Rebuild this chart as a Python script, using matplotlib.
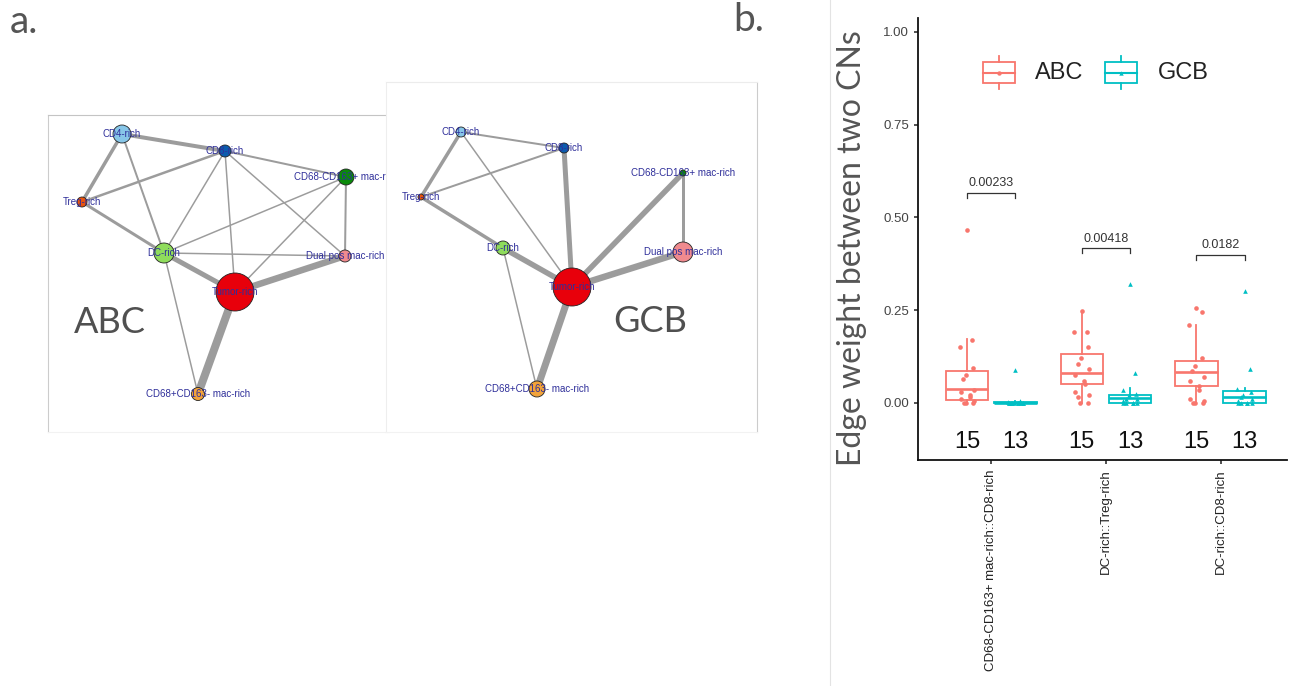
import numpy as np
import matplotlib
matplotlib.use('Agg')
import matplotlib.pyplot as plt
from matplotlib.patches import Circle, Rectangle

W, H = 1291, 686

# ---- network data (a.) ----
node_names = ['CD4-rich', 'CD8-rich', 'CD68-CD163+ mac-rich', 'Treg-rich',
              'DC-rich', 'Dual pos mac-rich', 'Tumor-rich', 'CD68+CD163- mac-rich']
node_colors = ['#87c6e8', '#0b5cad', '#0a8a0a', '#e8530e',
               '#8fdc5c', '#f08a8e', '#e8000b', '#f2a33a']

abc_x = [122, 225, 346, 82, 164, 345, 235, 198]
abc_y = [134, 151, 177, 202, 253, 256, 292, 394]
abc_r = [9, 6, 8, 5, 10, 6, 19, 6.5]
abc_edges = [(0, 1, 4), (0, 3, 3.5), (0, 4, 2), (1, 3, 2.5), (1, 2, 2), (1, 4, 1.5),
             (1, 6, 1.5), (1, 5, 1.5), (3, 4, 3), (2, 4, 1.5), (2, 6, 1.5), (2, 5, 2),
             (4, 5, 1.5), (4, 6, 5), (6, 5, 6.5), (6, 7, 8), (4, 7, 1.5)]

gcb_x = [461, 564, 683, 421, 503, 683, 572, 537]
gcb_y = [132, 148, 173, 197, 248, 252, 287, 389]
gcb_r = [5, 5, 3, 3, 7, 10, 19, 8]
gcb_edges = [(0, 1, 2), (0, 3, 3.5), (0, 6, 1.5), (3, 1, 2), (3, 4, 3.5), (1, 6, 5),
             (4, 6, 5.5), (4, 7, 1.5), (6, 2, 5.5), (2, 5, 3), (6, 5, 6.5), (6, 7, 7)]

# ---- boxplot data (b.) ----
cats = ['CD68-CD163+ mac-rich::CD8-rich', 'DC-rich::Treg-rich', 'DC-rich::CD8-rich']
abc_q1 = [0.009, 0.050, 0.045]
abc_med = [0.036, 0.081, 0.084]
abc_q3 = [0.086, 0.131, 0.113]
abc_lo = [0.0, 0.0, 0.0]
abc_hi = [0.173, 0.248, 0.209]
gcb_q1 = [0.0, 0.0, 0.0]
gcb_med = [0.0, 0.012, 0.016]
gcb_q3 = [0.003, 0.021, 0.032]
gcb_lo = [0.0, 0.0, 0.0]
gcb_hi = [0.005, 0.040, 0.039]

abc_pts = [[0.465, 0.17, 0.15, 0.095, 0.075, 0.065, 0.035, 0.03, 0.02, 0.015, 0.01, 0.005, 0.0, 0.0, 0.0],
           [0.248, 0.19, 0.19, 0.15, 0.12, 0.105, 0.09, 0.075, 0.06, 0.05, 0.03, 0.02, 0.015, 0.0, 0.0],
           [0.255, 0.245, 0.21, 0.12, 0.10, 0.085, 0.07, 0.06, 0.045, 0.035, 0.01, 0.005, 0.0, 0.0, 0.0]]
gcb_pts = [[0.088, 0.005, 0.002, 0.0, 0.0, 0.0, 0.0, 0.0, 0.0, 0.0, 0.0, 0.0, 0.0],
           [0.319, 0.081, 0.035, 0.025, 0.02, 0.01, 0.01, 0.005, 0.0, 0.0, 0.0, 0.0, 0.0],
           [0.301, 0.09, 0.038, 0.03, 0.02, 0.015, 0.01, 0.005, 0.0, 0.0, 0.0, 0.0, 0.0]]
n_abc = [15, 15, 15]
n_gcb = [13, 13, 13]
p_vals = ['0.00233', '0.00418', '0.0182']
p_y = [0.565, 0.416, 0.398]

red = '#f8766d'
teal = '#00bfc4'
title_font = 'Lato'


def px_axes(fig, x, y, w, h, **kw):
    return fig.add_axes([x / W, 1 - (y + h) / H, w / W, h / H], **kw)


def draw_network(ax, xs, ys, rs, edges, x0, y0, w, h, spine_cols):
    ax.set_xlim(x0, x0 + w)
    ax.set_ylim(y0 + h, y0)
    ax.set_xticks([])
    ax.set_yticks([])
    for side, c in spine_cols.items():
        ax.spines[side].set_color(c)
        ax.spines[side].set_linewidth(0.8)
    for i, j, wd in edges:
        ax.plot([xs[i], xs[j]], [ys[i], ys[j]], color='#9c9c9c', lw=wd * 0.72,
                solid_capstyle='butt', zorder=1)
    for k in range(len(xs)):
        ax.add_patch(Circle((xs[k], ys[k]), rs[k], facecolor=node_colors[k],
                            edgecolor='#222222', lw=0.6, zorder=2))
        ax.text(xs[k], ys[k], node_names[k], ha='center', va='center', fontsize=7,
                family='Liberation Sans', color='#2f2f9a', zorder=3, clip_on=True)


fig = plt.figure(figsize=(W / 100, H / 100), dpi=100)

# panel labels
fig.text(10 / W, 1 - 22 / H, 'a.', fontsize=28, family=title_font, color='#555555',
         ha='left', va='center')
fig.text(733 / W, 1 - 20 / H, 'b.', fontsize=28, family=title_font, color='#555555',
         ha='left', va='center')

# separator line
fig.add_artist(plt.Line2D([830 / W, 830 / W], [0, 1], color='#e3e3e3', lw=0.8))

# ABC network
ax1 = px_axes(fig, 48, 115, 340, 317)
draw_network(ax1, abc_x, abc_y, abc_r, abc_edges, 48, 115, 340, 317,
             {'left': '#cccccc', 'top': '#c4c4c4', 'bottom': '#f2f2f2', 'right': '#f2f2f2'})
ax1.text(110, 322, 'ABC', fontsize=26, family=title_font, color='#505050',
         ha='center', va='center')

# GCB network (drawn over the ABC panel)
ax2 = px_axes(fig, 386, 82, 371, 350, zorder=3)
ax2.set_facecolor('white')
draw_network(ax2, gcb_x, gcb_y, gcb_r, gcb_edges, 386, 82, 371, 350,
             {'left': '#eeeeee', 'top': '#ececec', 'bottom': '#f2f2f2', 'right': '#cccccc'})
ax2.text(650, 321, 'GCB', fontsize=26, family=title_font, color='#505050',
         ha='center', va='center')

# boxplot
ax = px_axes(fig, 918, 18, 369, 442)
pos = np.arange(1, len(cats) + 1)
dodge = 0.21
bw = 0.37

for q1, med, q3, lo, hi, pts, off, col, mk in [
        (abc_q1, abc_med, abc_q3, abc_lo, abc_hi, abc_pts, -dodge, red, 'o'),
        (gcb_q1, gcb_med, gcb_q3, gcb_lo, gcb_hi, gcb_pts, dodge, teal, '^')]:
    stats = [dict(q1=q1[i], med=med[i], q3=q3[i], whislo=lo[i], whishi=hi[i], fliers=[])
             for i in range(len(cats))]
    ax.bxp(stats, positions=pos + off, widths=bw, showfliers=False, showcaps=False,
           patch_artist=True, manage_ticks=False,
           boxprops=dict(facecolor='white', edgecolor=col, lw=1.3),
           medianprops=dict(color=col, lw=1.9),
           whiskerprops=dict(color=col, lw=1.3))
    for i in range(len(cats)):
        n = len(pts[i])
        jit = 0.065 * np.sin(np.arange(n) * 2.4)
        ax.scatter(pos[i] + off + jit, pts[i], s=11, marker=mk, color=col, zorder=4,
                   linewidths=0)

# significance brackets
for i in range(len(cats)):
    x1, x2 = pos[i] - dodge, pos[i] + dodge
    y = p_y[i]
    ax.plot([x1, x1, x2, x2], [y - 0.012, y, y, y - 0.012], color='#333333', lw=0.9)
    ax.text(pos[i], y + 0.01, p_vals[i], ha='center', va='bottom', fontsize=9,
            family='Liberation Sans', color='#333333')

# counts
for i in range(len(cats)):
    ax.text(pos[i] - dodge, -0.105, str(n_abc[i]), ha='center', va='center', fontsize=17,
            family='Liberation Sans', color='#111111')
    ax.text(pos[i] + dodge, -0.105, str(n_gcb[i]), ha='center', va='center', fontsize=17,
            family='Liberation Sans', color='#111111')

ax.set_xlim(0.36, 3.58)
ax.set_ylim(-0.154, 1.037)
ax.set_yticks([0, 0.25, 0.5, 0.75, 1.0])
ax.set_yticklabels(['0.00', '0.25', '0.50', '0.75', '1.00'], fontsize=9.5,
                   family='Liberation Sans', color='#444444')
ax.set_xticks(pos)
ax.set_xticklabels(cats, rotation=90, fontsize=9.5, family='Liberation Sans',
                   color='#222222')
ax.tick_params(length=3, width=1.1, color='#222222')
for s in ['top', 'right']:
    ax.spines[s].set_visible(False)
for s in ['left', 'bottom']:
    ax.spines[s].set_linewidth(1.3)
    ax.spines[s].set_color('#111111')

fig.text(852 / W, 1 - 248 / H, 'Edge weight between two CNs', rotation=90, fontsize=23,
         family=title_font, color='#555555', ha='center', va='center')

# legend drawn in pixel space
lg = px_axes(fig, 960, 45, 280, 55)
lg.set_xlim(960, 1240)
lg.set_ylim(100, 45)
lg.axis('off')
for xk, col, mk, lab, xt in [(999, red, 'o', 'ABC', 1035), (1121, teal, '^', 'GCB', 1158)]:
    lg.add_patch(Rectangle((xk - 16, 62), 32, 21, facecolor='white', edgecolor=col, lw=1.3))
    lg.plot([xk - 16, xk + 16], [72.5, 72.5], color=col, lw=1.5)
    lg.plot([xk, xk], [56, 62], color=col, lw=1.3)
    lg.plot([xk, xk], [83, 89], color=col, lw=1.3)
    lg.scatter([xk], [72.5], s=10, marker=mk, color=col, zorder=3, linewidths=0)
    lg.text(xt, 73, lab, fontsize=17, family='Liberation Sans', color='#222222',
            ha='left', va='center')

fig.savefig('out.png', dpi=100)
